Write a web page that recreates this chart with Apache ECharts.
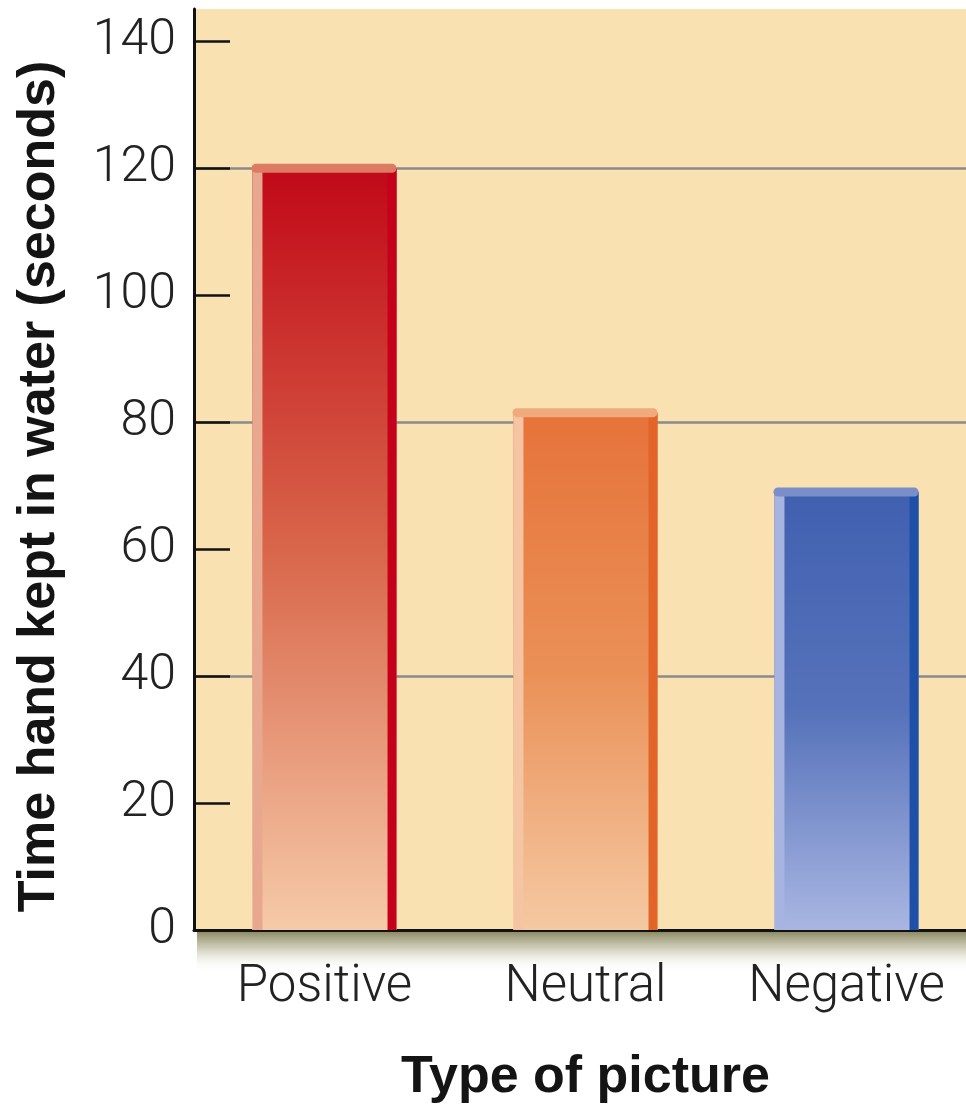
<!DOCTYPE html>
<html>
<head>
<meta charset="utf-8">
<script src="https://cdn.jsdelivr.net/npm/echarts@6/dist/echarts.min.js"></script>
<style>
html,body{margin:0;padding:0;background:#fff;}
#chart{width:966px;height:1105px;}
</style>
</head>
<body>
<div id="chart"></div>
<script>
// ---- data ----
const categories = ['Positive', 'Neutral', 'Negative'];
const timeValues = [120, 81.5, 69];
const yTickValues = [0, 20, 40, 60, 80, 100, 120, 140];
const gridLineValues = [40, 80, 120];
const yAxisTitle = 'Time hand kept in water (seconds)';
const xAxisTitle = 'Type of picture';

// ---- styles ----
const palette = [
  {cap:'#DC7A62', left:'#E8A890', right:'#C4001A', top:'#C10818', mid:'#D8664A', bottom:'#F6CAA8'},
  {cap:'#F0AA7C', left:'#F5C4A2', right:'#E36428', top:'#E6733A', mid:'#EA9057', bottom:'#F5C9A2'},
  {cap:'#7A8ECA', left:'#A8B4E0', right:'#1F50A8', top:'#4060B0', mid:'#5672BA', bottom:'#A9B6E2'}
];

const chart = echarts.init(document.getElementById('chart'), null, {renderer:'canvas'});

function renderBar(params, api) {
  const idx = api.value(0);
  const val = api.value(1);
  const top = api.coord([idx, val]);
  const base = api.coord([idx, 0]);
  const band = api.size([1, 0])[0];
  const w = band * 0.552;
  const x = top[0] - w / 2;
  const h = base[1] - top[1];
  const c = palette[params.dataIndex];
  const strip = 10, rstrip = 9, capH = 9;
  return {
    type: 'group',
    children: [
      {type:'rect', shape:{x:x, y:top[1], width:w, height:h},
       style:{fill:new echarts.graphic.LinearGradient(0,0,0,1,[
         {offset:0,color:c.top},{offset:0.5,color:c.mid},{offset:1,color:c.bottom}])}},
      {type:'rect', shape:{x:x, y:top[1], width:strip, height:h}, style:{fill:c.left}},
      {type:'rect', shape:{x:x + w - rstrip, y:top[1], width:rstrip, height:h}, style:{fill:c.right}},
      {type:'rect', shape:{x:x - 1, y:top[1] - capH/2, width:w + 1, height:capH, r:4.5}, style:{fill:c.cap}}
    ]
  };
}

const yMax = 145.1;

chart.setOption({
  animation: false,
  backgroundColor: '#ffffff',
  grid: {left:194, width:783, top:9, bottom:175, show:true, backgroundColor:'#F9E1B2', borderWidth:0,
         containLabel:false, outerBoundsMode:'none'},
  xAxis: {
    type: 'category',
    data: categories,
    axisLine: {show:true, onZero:false, lineStyle:{color:'#111', width:3}},
    axisTick: {show:false},
    axisLabel: {fontFamily:'Roboto', fontWeight:300, fontSize:51, color:'#222', margin:33},
    name: xAxisTitle,
    nameLocation: 'middle',
    nameGap: 122,
    nameTextStyle: {fontFamily:'Liberation Sans', fontWeight:'bold', fontSize:52, color:'#141414'}
  },
  yAxis: [{
    type: 'value',
    min: 0, max: yMax, interval: 20,
    axisLine: {show:true, lineStyle:{color:'#111', width:3}},
    axisTick: {show:true, inside:true, length:36, customValues: yTickValues, lineStyle:{color:'#111', width:2.5}},
    axisLabel: {customValues: yTickValues, fontFamily:'Roboto', fontWeight:300, fontSize:50, color:'#222', margin:18},
    splitLine: {show:false},
    name: yAxisTitle,
    nameLocation: 'middle',
    nameRotate: 90,
    nameGap: 128,
    nameTextStyle: {fontFamily:'Liberation Sans', fontWeight:'bold', fontSize:52, color:'#141414', padding:[0, 34, 0, 0]},
    z: 5
  }, {
    type: 'value',
    min: 0, max: yMax, interval: 40,
    axisLine: {show:false}, axisTick:{show:false}, axisLabel:{show:false},
    splitLine: {show:true, showMinLine:false, showMaxLine:false, lineStyle:{color:'#8A8A8A', width:2.5}}
  }],
  series: [{
    type: 'custom',
    yAxisIndex: 0,
    renderItem: renderBar,
    data: categories.map((c, i) => [i, timeValues[i]]),
    z: 3
  }]
});

// soft shadow under the x axis
const basePt = chart.convertToPixel({xAxisIndex:0, yAxisIndex:0}, [0, 0]);
chart.setOption({
  graphic: [{
    type: 'rect',
    shape: {x: 197, y: basePt[1] + 2, width: 966 - 197, height: 40},
    style: {fill: new echarts.graphic.LinearGradient(0,0,0,1,[
      {offset:0, color:'rgba(135,133,95,0.95)'},
      {offset:0.4, color:'rgba(180,178,145,0.65)'},
      {offset:1, color:'rgba(255,255,255,0)'}])},
    z: 0
  }]
});
</script>
</body>
</html>
